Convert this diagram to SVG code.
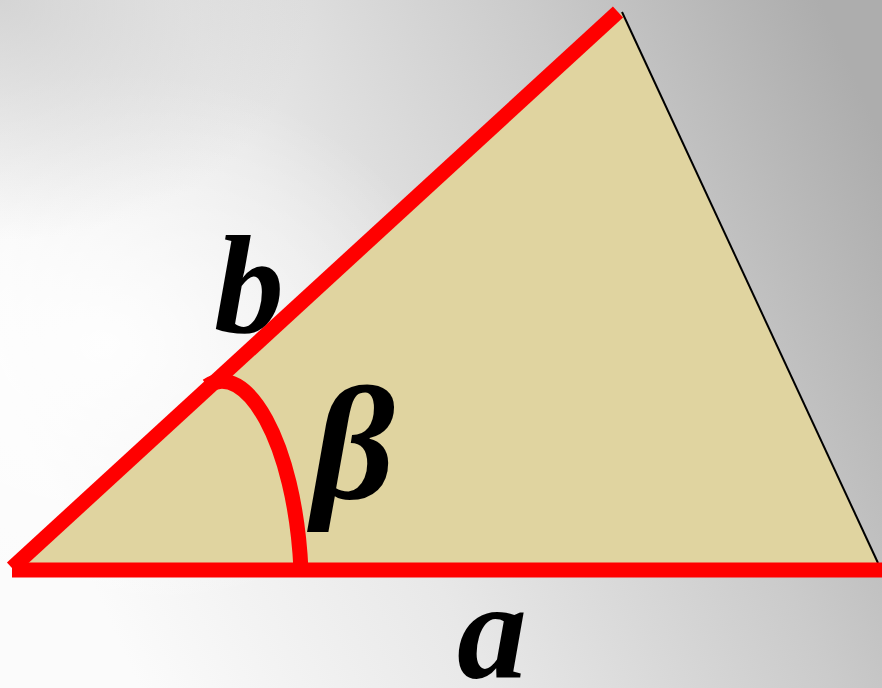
<svg xmlns="http://www.w3.org/2000/svg" width="882" height="688" viewBox="0 0 882 688">
<defs>
<linearGradient id="bg" x1="0" y1="0.55" x2="1" y2="0.2">
<stop offset="0" stop-color="#fbfbfb"/>
<stop offset="0.35" stop-color="#e8e8e8"/>
<stop offset="0.7" stop-color="#cbcbcb"/>
<stop offset="1" stop-color="#adadad"/>
</linearGradient>
<radialGradient id="glow" cx="0.12" cy="0.5" r="0.4">
<stop offset="0" stop-color="#ffffff" stop-opacity="0.9"/>
<stop offset="1" stop-color="#ffffff" stop-opacity="0"/>
</radialGradient>
<radialGradient id="shade" cx="0" cy="0" r="0.35">
<stop offset="0" stop-color="#c8c8c8" stop-opacity="0.7"/>
<stop offset="1" stop-color="#c8c8c8" stop-opacity="0"/>
</radialGradient>
<style>
.red{fill:none;stroke:#ff0000;stroke-width:15}
.lbl{font-family:"Liberation Serif","Times New Roman",serif;font-weight:bold;font-style:italic;font-size:140px;fill:#000}
</style>
</defs>
<rect width="882" height="688" fill="url(#bg)"/>
<rect width="882" height="688" fill="url(#glow)"/>
<rect width="882" height="688" fill="url(#shade)"/>
<g id="triangle">
<polygon points="14,568 622,12 878,563" fill="#e0d4a0"/>
<line x1="622" y1="12" x2="878" y2="563" stroke="#000" stroke-width="2"/>
</g>
<g id="sides">
<line class="red" x1="12" y1="570" x2="882" y2="570"/>
<line class="red" x1="12" y1="568" x2="618" y2="12"/>
<path class="red" d="M207,386 C245,360 295,440 301,570"/>
</g>
<g id="labels">
<text class="lbl" x="214" y="332">b</text>
<text class="lbl" x="312" y="498" style="font-size:162px">β</text>
<text class="lbl" x="457" y="678">a</text>
</g>
</svg>
